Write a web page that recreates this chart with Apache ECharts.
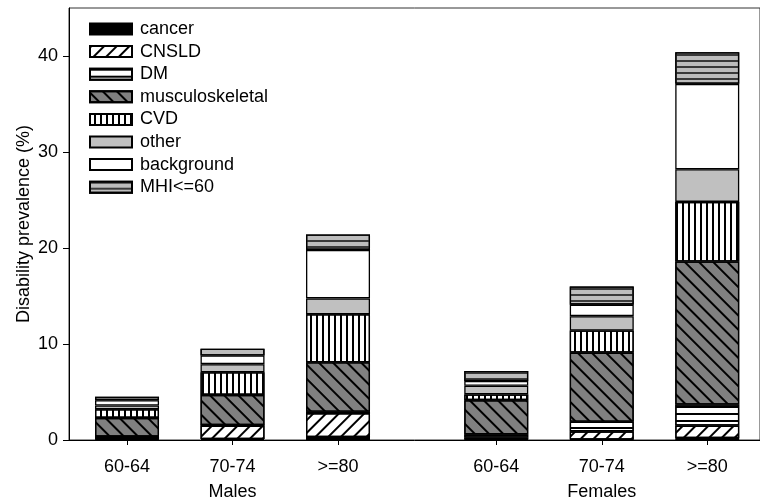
<!DOCTYPE html>
<html><head><meta charset="utf-8">
<script src="https://cdn.jsdelivr.net/npm/echarts@6/dist/echarts.min.js"></script>
<style>html,body{margin:0;padding:0;background:#fff}#c{width:760px;height:503px}</style>
</head><body><div id="c"></div>
<script>
// ---- data ----
const ageGroups = ['60-64', '70-74', '>=80'];
const sexGroups = ['Males', 'Females'];
const yTicks = [0, 10, 20, 30, 40];
// order of bars: Males 60-64, 70-74, >=80, Females 60-64, 70-74, >=80
const cancer          = [0.05, 0.10, 0.30, 0.05, 0.05, 0.20];
const cnsld           = [0.28, 1.40, 2.50, 0.20, 0.85, 1.30];
const dm              = [0.02, 0.05, 0.15, 0.35, 1.00, 2.20];
const musculoskeletal = [1.95, 3.15, 5.15, 3.55, 7.20, 14.90];
const cvd             = [0.90, 2.35, 5.00, 0.60, 2.30, 6.20];
const other           = [0.40, 0.85, 1.65, 0.90, 1.50, 3.40];
const background      = [0.55, 0.90, 5.05, 0.50, 1.20, 8.90];
const mhi             = [0.35, 0.70, 1.60, 1.05, 1.90, 3.30];

// ---- layout: bar slot index, with a 1.5-slot gap between the sexes ----
const xPos = [];
const xLabels = [];
sexGroups.forEach((s, g) => ageGroups.forEach((a, i) => { xPos.push(1 + g * 3.5 + i); xLabels.push(a); }));
const groupCenters = sexGroups.map((s, g) => 1 + g * 3.5 + (ageGroups.length - 1) / 2);
const near = (a, b) => Math.abs(a - b) < 1e-6;

const FONT = '"Liberation Sans", Arial, Helvetica, sans-serif';
const lines = (rot, thick, gap, color) => ({symbol: 'rect', dashArrayX: [1, 0], dashArrayY: [thick, gap], rotation: rot, color: color || '#000'});

const seriesDefs = [
  {name: 'cancer', data: cancer, color: '#000000'},
  {name: 'CNSLD', data: cnsld, color: '#ffffff', decal: lines(-Math.PI / 4, 1.3, 6.2)},
  {name: 'DM', data: dm, color: '#ffffff', decal: lines(0, 1.4, 4.2)},
  {name: 'musculoskeletal', data: musculoskeletal, color: '#808080', decal: lines(Math.PI / 4, 1.3, 7.5)},
  {name: 'CVD', data: cvd, color: '#ffffff', decal: lines(Math.PI / 2, 1.4, 3.9)},
  {name: 'other', data: other, color: '#c0c0c0'},
  {name: 'background', data: background, color: '#ffffff'},
  {name: 'MHI<=60', data: mhi, color: '#bdbdbd', decal: lines(0, 1.2, 3.8, '#3a3a3a')}
];

const chart = echarts.init(document.getElementById('c'), null, {renderer: 'canvas'});
chart.setOption({
  animation: false,
  backgroundColor: '#ffffff',
  textStyle: {fontFamily: FONT},
  grid: {left: 69, top: 8, width: 700, height: 432, show: true, borderColor: '#333', borderWidth: 1, backgroundColor: 'transparent'},
  legend: {
    orient: 'vertical', left: 84, top: 15, itemWidth: 42, itemHeight: 11, itemGap: 4.6,
    icon: 'rect',
    textStyle: {fontFamily: FONT, fontSize: 18, color: '#000', padding: [0, 0, 0, 3]},
    data: seriesDefs.map(d => d.name)
  },
  xAxis: [{
    type: 'value', min: 0.45, max: 7.0,
    axisLine: {show: true, lineStyle: {color: '#000', width: 1}},
    axisTick: {show: true, length: 5, customValues: xPos, lineStyle: {color: '#000'}},
    splitLine: {show: false},
    axisLabel: {customValues: xPos, margin: 18, fontFamily: FONT, fontSize: 18, color: '#000',
      formatter: v => { const k = xPos.findIndex(p => near(p, v)); return k >= 0 ? xLabels[k] : ''; }}
  }, {
    type: 'value', min: 0.45, max: 7.0, position: 'bottom', offset: 25,
    axisLine: {show: false}, axisTick: {show: false}, splitLine: {show: false},
    axisLabel: {customValues: groupCenters, margin: 18, fontFamily: FONT, fontSize: 18, color: '#000',
      formatter: v => { const k = groupCenters.findIndex(p => near(p, v)); return k >= 0 ? sexGroups[k] : ''; }}
  }],
  yAxis: {
    type: 'value', min: 0, max: 45,
    name: 'Disability prevalence (%)', nameLocation: 'middle', nameGap: 36, nameRotate: 90,
    nameMoveOverlap: false,
    nameTextStyle: {fontFamily: FONT, fontSize: 18, color: '#000'},
    axisLine: {show: true, lineStyle: {color: '#000', width: 1}},
    axisTick: {show: true, length: 6, customValues: yTicks, lineStyle: {color: '#000'}},
    axisLabel: {customValues: yTicks, margin: 11, fontFamily: FONT, fontSize: 18, color: '#000'},
    splitLine: {show: false}
  },
  series: seriesDefs.map(d => ({
    name: d.name, type: 'bar', stack: 'total', barWidth: 64,
    xAxisIndex: 0,
    encode: {x: 1, y: 0},
    data: d.data.map((v, i) => [v, xPos[i]]),
    itemStyle: {color: d.color, borderColor: '#000', borderWidth: 1.3, decal: d.decal || null},
    emphasis: {disabled: true}
  }))
});
</script></body></html>
